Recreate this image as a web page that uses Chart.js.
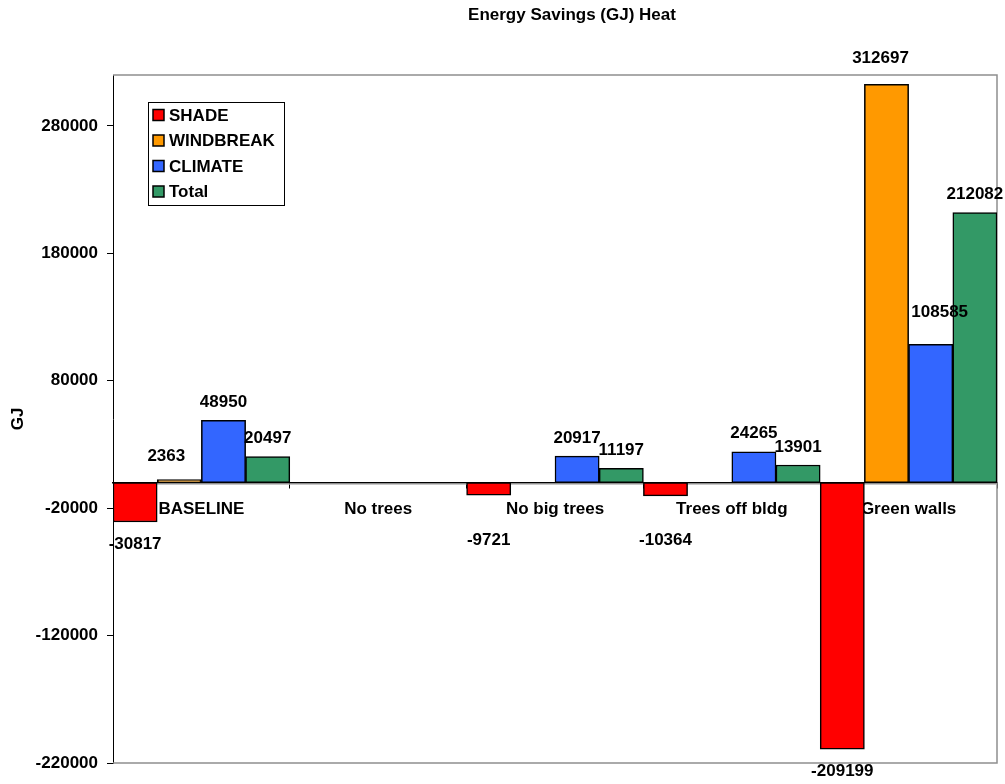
<!DOCTYPE html>
<html>
<head>
<meta charset="utf-8">
<title>Energy Savings (GJ) Heat</title>
<script src="https://cdn.jsdelivr.net/npm/chart.js@4.4.1/dist/chart.umd.min.js"></script>
<style>
  html, body { margin: 0; padding: 0; background: #ffffff; }
  #wrap { width: 1005px; height: 784px; }
</style>
</head>
<body>
<div id="wrap"><canvas id="chart" width="1005" height="784"></canvas></div>
<script>
// Scenario categories along the x axis
const categories = ['BASELINE', 'No trees', 'No big trees', 'Trees off bldg', 'Green walls'];

// Heating energy savings per scenario (GJ); null = no value reported
const shadeValues     = [-30817, null, -9721, -10364, -209199];
const windbreakValues = [2363,   null, null,  null,   312697];
const climateValues   = [48950,  null, 20917, 24265,  108585];
const totalValues     = [20497,  null, 11197, 13901,  212082];

// Value-axis tick labels
const yTickValues = [-220000, -120000, -20000, 80000, 180000, 280000];

const FONT = '"Liberation Sans", Arial, Helvetica, sans-serif';
const AXIS_LEFT = 113;

// Hand-placed value labels (dataset index : category index -> pixel shift)
const labelShift = {
  '1:0': { dx: -13, dy: -5 },
  '1:4': { dx: -6,  dy: -8 },
  '2:4': { dx: 9,   dy: -14 }
};

// Title, axis title, legend, plot frame and value labels
const decorations = {
  id: 'decorations',
  beforeDatasetsDraw(chart) {
    const { ctx, chartArea: a } = chart;
    ctx.save();
    ctx.strokeStyle = '#8f8f8f';
    ctx.lineWidth = 1.5;
    ctx.beginPath();
    ctx.moveTo(a.left, a.top);
    ctx.lineTo(a.right, a.top);
    ctx.lineTo(a.right, a.bottom);
    ctx.lineTo(a.left, a.bottom);
    ctx.stroke();
    // soft shadow under the category axis line
    const zy = chart.scales.y.getPixelForValue(0);
    ctx.strokeStyle = '#b0b0b0';
    ctx.lineWidth = 1;
    ctx.beginPath();
    ctx.moveTo(a.left, zy + 1.5);
    ctx.lineTo(a.right, zy + 1.5);
    ctx.stroke();
    ctx.restore();
  },
  afterDraw(chart) {
    const { ctx, chartArea: a } = chart;
    const yScale = chart.scales.y;
    const zeroY = yScale.getPixelForValue(0);
    ctx.save();
    ctx.fillStyle = '#000';
    ctx.textAlign = 'center';
    ctx.textBaseline = 'middle';

    // chart title
    ctx.font = 'bold 17px ' + FONT;
    ctx.fillText('Energy Savings (GJ) Heat', 572, 15);

    // value axis title
    ctx.save();
    ctx.font = 'bold 17px ' + FONT;
    ctx.translate(18, (a.top + a.bottom) / 2);
    ctx.rotate(-Math.PI / 2);
    ctx.fillText('GJ', 0, 0);
    ctx.restore();

    // value labels on the bars
    ctx.font = 'bold 17px ' + FONT;
    chart.data.datasets.forEach((ds, di) => {
      const meta = chart.getDatasetMeta(di);
      meta.data.forEach((bar, i) => {
        const v = ds.data[i];
        if (v === null || v === undefined) return;
        let y;
        if (v >= 0) {
          y = bar.y - 18;
        } else {
          y = Math.max(bar.y + 22, zeroY + 58);
        }
        const s = labelShift[di + ':' + i] || { dx: 0, dy: 0 };
        ctx.fillText(String(v), bar.x + s.dx, y + s.dy);
      });
    });

    // legend box
    const lx = 148, ly = 102, lw = 136, lh = 103;
    ctx.fillStyle = '#ffffff';
    ctx.fillRect(lx, ly, lw, lh);
    ctx.strokeStyle = '#000';
    ctx.lineWidth = 1;
    ctx.strokeRect(lx + 0.5, ly + 0.5, lw, lh);
    ctx.textAlign = 'left';
    ctx.font = 'bold 17px ' + FONT;
    chart.data.datasets.forEach((ds, di) => {
      const cy = 115 + di * 25.5;
      ctx.fillStyle = ds.backgroundColor;
      ctx.fillRect(153, cy - 5.5, 11, 11);
      ctx.strokeStyle = '#000';
      ctx.lineWidth = 1.5;
      ctx.strokeRect(153, cy - 5.5, 11, 11);
      ctx.fillStyle = '#000';
      ctx.fillText(ds.label, 169, cy + 1);
    });
    ctx.restore();
  }
};

const barStyle = {
  borderColor: '#000000',
  borderWidth: 1.5,
  borderSkipped: false,
  categoryPercentage: 1.0,
  barPercentage: 1.0
};

new Chart(document.getElementById('chart'), {
  type: 'bar',
  data: {
    labels: categories,
    datasets: [
      Object.assign({ label: 'SHADE',     data: shadeValues,     backgroundColor: '#FF0000' }, barStyle),
      Object.assign({ label: 'WINDBREAK', data: windbreakValues, backgroundColor: '#FF9900' }, barStyle),
      Object.assign({ label: 'CLIMATE',   data: climateValues,   backgroundColor: '#3366FF' }, barStyle),
      Object.assign({ label: 'Total',     data: totalValues,     backgroundColor: '#339966' }, barStyle)
    ]
  },
  options: {
    responsive: false,
    animation: false,
    devicePixelRatio: 1,
    layout: { padding: { left: 0, right: 8, top: 75, bottom: 21 } },
    plugins: {
      legend: { display: false },
      title: { display: false },
      tooltip: { enabled: false }
    },
    scales: {
      x: {
        type: 'category',
        position: { y: 0 },
        offset: true,
        z: 1,
        grid: {
          display: true,
          offset: true,
          drawOnChartArea: false,
          drawTicks: true,
          tickLength: 5,
          color: '#000000'
        },
        border: { display: true, color: '#000000', width: 1.5 },
        ticks: {
          color: '#000000',
          padding: 11,
          maxRotation: 0,
          autoSkip: false,
          font: { family: FONT, size: 17, weight: 'bold' }
        }
      },
      y: {
        min: -220000,
        max: 320000,
        afterBuildTicks(scale) {
          scale.ticks = yTickValues.map(v => ({ value: v }));
        },
        afterFit(scale) {
          scale.width = AXIS_LEFT;
        },
        grid: {
          display: true,
          drawOnChartArea: false,
          drawTicks: true,
          tickLength: 6,
          color: '#000000'
        },
        border: { display: true, color: '#000000', width: 1 },
        ticks: {
          color: '#000000',
          padding: 9,
          font: { family: FONT, size: 17, weight: 'bold' },
          callback: (v) => String(v)
        }
      }
    }
  },
  plugins: [decorations]
});
</script>
</body>
</html>
